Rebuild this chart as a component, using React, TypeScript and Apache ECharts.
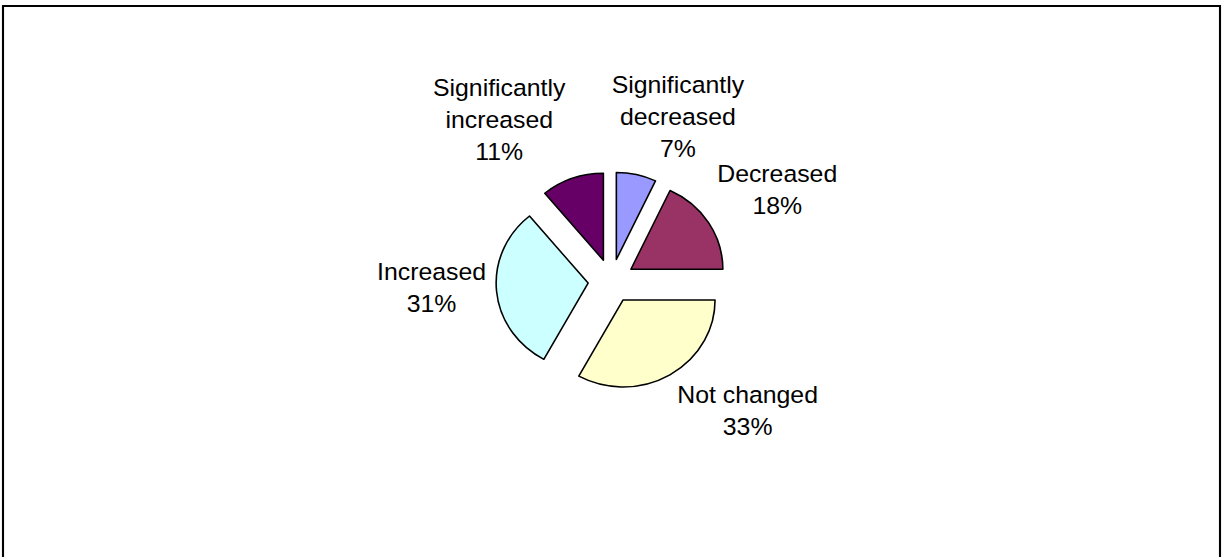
import React, { useEffect, useRef } from "react";
import * as echarts from "echarts";

const categories = [
  "Significantly decreased",
  "Decreased",
  "Not changed",
  "Increased",
  "Significantly increased",
];
const values = [7, 18, 33, 31, 11];
const labelLines = [
  ["Significantly", "decreased"],
  ["Decreased"],
  ["Not changed"],
  ["Increased"],
  ["Significantly", "increased"],
];

// layout (not data): label centre offsets from pie centre, colours
const labelOffsets = [
  [63, -164],
  [157, -91],
  [129, 130],
  [-170, 7],
  [-106, -161],
];
const colors = ["#9999FF", "#993366", "#FFFFCC", "#CCFFFF", "#660066"];

// the reference picture is slightly stretched horizontally
const SX = 1.057;
const W = 1223 / SX;
const H = 557;
const CX = 578.3;
const CY = 281;

export default function App() {
  const ref = useRef<HTMLDivElement>(null);
  useEffect(() => {
    if (!ref.current) return;
    const chart = echarts.init(ref.current, null, { renderer: "svg" });
    const total = values.reduce((a, b) => a + b, 0);
    const labels = categories.map((c, i) => ({
      type: "text",
      x: CX + labelOffsets[i][0],
      y: CY + labelOffsets[i][1],
      silent: true,
      style: {
        text: [...labelLines[i], Math.round((values[i] / total) * 100) + "%"].join("\n"),
        fill: "#000",
        font: '23.5px "Liberation Sans", Arial, sans-serif',
        lineHeight: 32,
        align: "center",
        verticalAlign: "middle",
      },
    }));
    chart.setOption({
      animation: false,
      backgroundColor: "#ffffff",
      graphic: [
        {
          type: "rect",
          shape: { x: 3 / SX, y: 6, width: 1217 / SX, height: 560 },
          style: { fill: "none", stroke: "#000", lineWidth: 2 },
          silent: true,
        },
        ...labels,
      ],
      series: [
        {
          type: "pie",
          center: [CX, CY],
          radius: 87,
          startAngle: 90,
          clockwise: true,
          selectedMode: "multiple",
          selectedOffset: 22,
          silent: true,
          emphasis: { disabled: true },
          itemStyle: { borderColor: "#000", borderWidth: 1.5 },
          select: { itemStyle: { borderColor: "#000", borderWidth: 1.5 } },
          label: { show: false },
          labelLine: { show: false },
          data: categories.map((c, i) => ({
            name: c,
            value: values[i],
            selected: true,
            itemStyle: { color: colors[i] },
            select: { itemStyle: { color: colors[i] } },
          })),
        },
      ],
    });
    return () => chart.dispose();
  }, []);
  return (
    <div
      ref={ref}
      style={{
        position: "absolute",
        left: 0,
        top: 0,
        width: W,
        height: H,
        transform: `scaleX(${SX})`,
        transformOrigin: "0 0",
      }}
    />
  );
}
